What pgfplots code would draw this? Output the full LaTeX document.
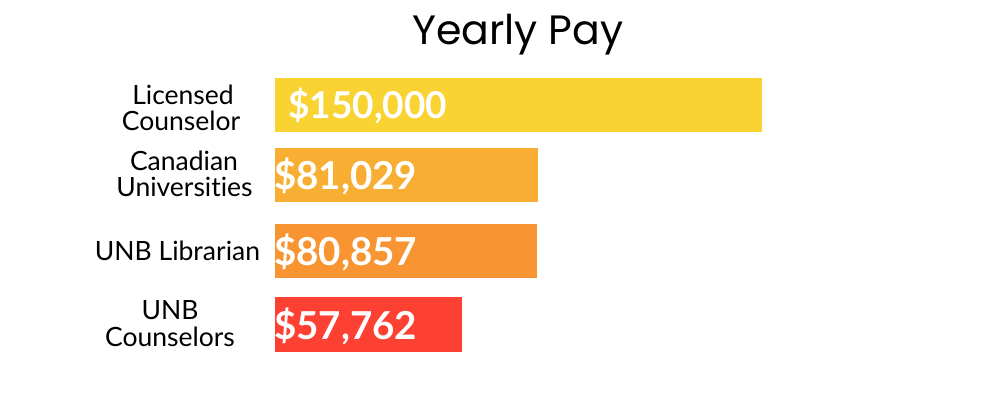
\documentclass[border=0pt]{standalone}
\usepackage{pgfplots}
\pgfplotsset{compat=1.18}
\usepackage{fontspec}
\setmainfont[Ligatures=CommonOff]{Lato}
\newfontfamily\titlefont{Poppins}
\definecolor{c1}{RGB}{249,211,50}
\definecolor{c2}{RGB}{248,174,51}
\definecolor{c3}{RGB}{248,149,50}
\definecolor{c4}{RGB}{252,65,50}
\begin{document}
\begin{tikzpicture}
\begin{axis}[
  at={(0,0)}, anchor=south west,
  width=1008bp, height=397bp, scale only axis,
  xmin=-84756, xmax=225911, ymin=0, ymax=397, y dir=reverse,
  hide axis, clip=false,
]
\path (rel axis cs:0,0) rectangle (rel axis cs:1,1);
\addplot[xbar, bar width=54.5bp, bar shift=0pt, fill=c1, draw=none] coordinates {(150000,104.8)};
\addplot[xbar, bar width=54.5bp, bar shift=0pt, fill=c2, draw=none] coordinates {(81029,175)};
\addplot[xbar, bar width=54.5bp, bar shift=0pt, fill=c3, draw=none] coordinates {(80857,251.2)};
\addplot[xbar, bar width=54.5bp, bar shift=0pt, fill=c4, draw=none] coordinates {(57762,324.5)};
\addplot[draw=none, mark=none, nodes near coords, point meta=explicit symbolic,
  every node near coord/.style={anchor=base west, inner sep=0pt, text=white,
  font=\fontsize{37bp}{40bp}\selectfont\bfseries}]
  table[meta=label]{
x y label
4000 118.3 \$150,000
};
\addplot[draw=none, mark=none, nodes near coords, point meta=explicit symbolic,
  every node near coord/.style={anchor=base west, inner sep=0pt, text=white,
  font=\fontsize{38.5bp}{41bp}\selectfont\bfseries}]
  table[meta=label]{
x y label
-300 189.3 \$81,029
-300 265 \$80,857
-300 339 \$57,762
};
\begin{scope}[every node/.style={anchor=base, inner sep=0pt, font=\fontsize{26.5bp}{30bp}\selectfont}]
\node at (axis cs:-28354,104.3) {Licensed};
\node at (axis cs:-28971,131) {Counselor};
\node at (axis cs:-28046,170.5) {Canadian};
\node at (axis cs:-27892,196.7) {Universities};
\node at (axis cs:-30050,260) {UNB Librarian};
\node at (axis cs:-32361,319.3) {UNB};
\node at (axis cs:-32361,346) {Counselors};
\end{scope}
\node[anchor=base, inner sep=0pt, font=\titlefont\fontsize{41bp}{45bp}\selectfont] at (axis cs:74893,45) {Yearly Pay};
\end{axis}
\end{tikzpicture}
\end{document}
